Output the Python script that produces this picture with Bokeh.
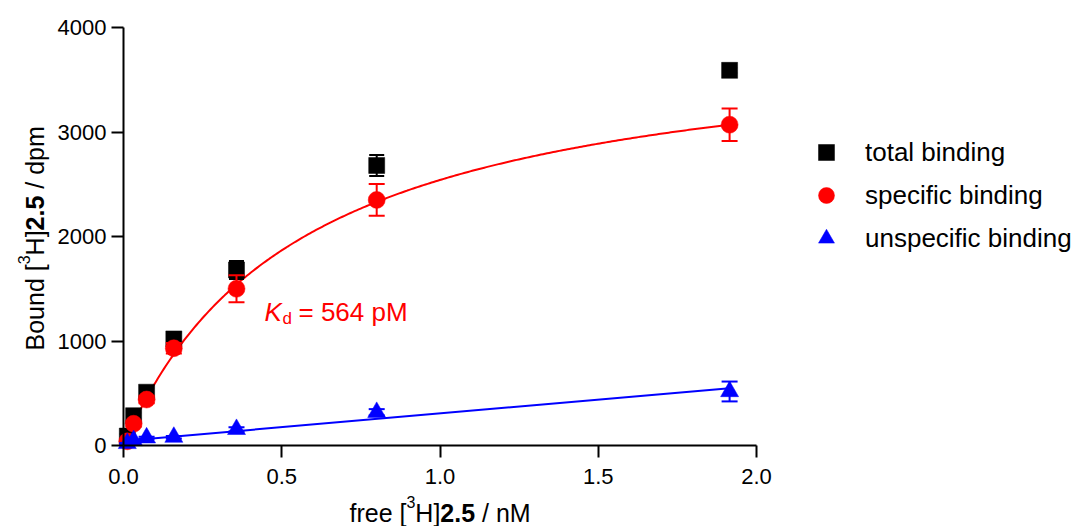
import numpy as np
from bokeh.plotting import figure
from bokeh.models import (ColumnDataSource, Range1d, Label, Legend, LegendItem,
                          FixedTicker, PrintfTickFormatter, LinearAxis)
from bokeh.embed import file_html
from bokeh.resources import INLINE

# ---------------- data ----------------
free_nM = [0.012, 0.032, 0.073, 0.159, 0.357, 0.800, 1.915]
total_binding = [90, 285, 510, 1020, 1680, 2680, 3590]
total_err = [20, 30, 40, 60, 86, 100, 25]
specific_binding = [40, 208, 440, 931, 1500, 2350, 3070]
specific_err = [15, 25, 35, 50, 128, 152, 155]
unspecific_binding = [20, 48, 74, 80, 155, 318, 517]
unspecific_err = [5, 8, 10, 12, 20, 30, 95]

# fit parameters
KD_NM = 0.564
BMAX = 3974
NS_SLOPE = 263
NS_INTERCEPT = 44

x_ticks = [0, 0.5, 1.0, 1.5, 2.0]
y_ticks = [0, 1000, 2000, 3000, 4000]

RED = "#ff0000"
BLUE = "#0000ff"
BLACK = "#000000"
FONT = "Liberation Sans"

# ---------------- layout geometry (pixels) ----------------
W, H = 1074, 526
AX_L, AX_R, AX_T, AX_B = 123, 756, 27, 445      # where the axes sit on the canvas
X_MIN, X_MAX, Y_MIN, Y_MAX = 0.0, 2.0, 0.0, 4000.0
kx = (AX_R - AX_L) / (X_MAX - X_MIN)
ky = (AX_B - AX_T) / (Y_MAX - Y_MIN)
x_range = Range1d(X_MIN - AX_L / kx, X_MAX + (W - AX_R) / kx)
y_range = Range1d(Y_MIN - (H - AX_B) / ky, Y_MAX + AX_T / ky)

p = figure(width=W, height=H, output_backend="svg", toolbar_location=None,
           x_range=x_range, y_range=y_range, x_axis_type=None, y_axis_type=None,
           min_border=0)
p.outline_line_color = None
p.xgrid.visible = False
p.ygrid.visible = False
p.background_fill_color = "white"
p.border_fill_color = "white"

xaxis = LinearAxis(fixed_location=0, bounds=(X_MIN, X_MAX),
                   ticker=FixedTicker(ticks=x_ticks),
                   formatter=PrintfTickFormatter(format="%.1f"))
yaxis = LinearAxis(fixed_location=0, bounds=(Y_MIN, Y_MAX),
                   ticker=FixedTicker(ticks=y_ticks))
for ax in (xaxis, yaxis):
    ax.axis_line_width = 2
    ax.axis_line_color = BLACK
    ax.major_tick_line_width = 2
    ax.major_tick_line_color = BLACK
    ax.major_tick_out = 12
    ax.major_tick_in = 0
    ax.minor_tick_line_color = None
    ax.major_label_text_font = FONT
    ax.major_label_text_font_size = "22px"
    ax.major_label_text_color = BLACK
xaxis.major_label_standoff = 11
yaxis.major_label_standoff = 5
p.add_layout(xaxis, "below")
p.add_layout(yaxis, "left")

# ---------------- fit lines ----------------
xf = np.linspace(0, free_nM[-1], 300)
p.line(xf, BMAX * xf / (KD_NM + xf), line_color=RED, line_width=2)
xl = np.array([0, free_nM[-1]])
p.line(xl, NS_INTERCEPT + NS_SLOPE * xl, line_color=BLUE, line_width=2)


def series(y, err, color, marker, size, cap):
    y = np.array(y, dtype=float)
    e = np.array(err, dtype=float)
    src = ColumnDataSource(dict(x=free_nM, y=y, lo=y - e, hi=y + e))
    p.segment(x0="x", y0="lo", x1="x", y1="hi", source=src, line_color=color, line_width=2)
    p.scatter(x="x", y="lo", source=src, marker="dash", size=cap, line_color=color, line_width=2)
    p.scatter(x="x", y="hi", source=src, marker="dash", size=cap, line_color=color, line_width=2)
    return p.scatter(x="x", y="y", source=src, marker=marker, size=size,
                     fill_color=color, line_color=color, line_width=0.5)


r_total = series(total_binding, total_err, BLACK, "square", 16, 15)
r_spec = series(specific_binding, specific_err, RED, "circle", 17, 16)
r_unspec = series(unspecific_binding, unspecific_err, BLUE, "triangle", 18, 16)

# ---------------- legend ----------------
LEG_LEFT, LEG_TOP, LEG_H = 806, 132, 126
legend = Legend(items=[LegendItem(label="total binding", renderers=[r_total]),
                       LegendItem(label="specific binding", renderers=[r_spec]),
                       LegendItem(label="unspecific binding", renderers=[r_unspec])],
                location=(LEG_LEFT, H - LEG_TOP - LEG_H), orientation="vertical",
                border_line_color=None, background_fill_alpha=0,
                padding=0, margin=0, spacing=3,
                glyph_width=40, glyph_height=40, label_height=40,
                label_standoff=19, label_text_font=FONT,
                label_text_font_size="26px", label_text_color=BLACK)
p.add_layout(legend)

# ---------------- texts (screen units; frame == whole canvas) ----------------


def lab(text, cx, cy, size, color=BLACK, style="normal", angle=0.0):
    p.add_layout(Label(x=cx, y=H - cy, x_units="screen", y_units="screen",
                       text=text, text_font=FONT, text_font_size=f"{size}px",
                       text_font_style=style, text_color=color, angle=angle,
                       text_align="left", text_baseline="alphabetic"))


# K_d annotation
lab("K", 264, 311, 26, RED, "italic")
lab("d", 282, 318, 17, RED)
lab("= 564 pM", 298, 311, 26, RED)

# x-axis title: free [3H]2.5 / nM
S = 25
SP = 0.278 * S
x0 = 349
XB = 512
lab("free [", x0, XB, S)
x0 += 2.279 * S
lab("3", x0, XB - 11, 16)
x0 += 0.556 * 16
lab("H]", x0, XB, S)
x0 += 1.0 * S
lab("2.5", x0, XB, S, style="bold")
x0 += 1.39 * S + SP
lab("/ nM", x0, XB, S)

# y-axis title: Bound [3H]2.5 / dpm (rotated)
A = np.pi / 2
bx = 34
y0 = 350
lab("Bound [", bx, y0, S, angle=A)
y0 -= 3.447 * S
lab("3", bx - 11, y0, 16, angle=A)
y0 -= 0.556 * 16
lab("H]", bx, y0, S, angle=A)
y0 -= 1.0 * S
lab("2.5", bx, y0, S, style="bold", angle=A)
y0 -= 1.39 * S + SP
lab("/ dpm", bx, y0, S, angle=A)

open("out.html", "w").write(file_html(p, INLINE))
